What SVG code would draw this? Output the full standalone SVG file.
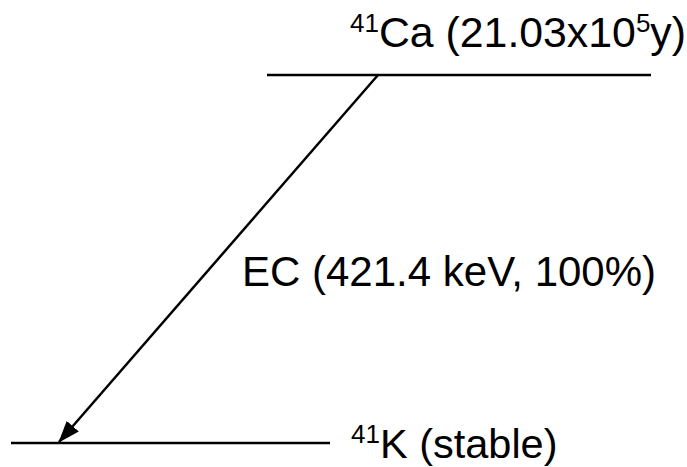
<svg xmlns="http://www.w3.org/2000/svg" width="687" height="467" viewBox="0 0 687 467">
<defs>
<style>
.lvl{stroke:#000;stroke-width:2.5;fill:none}
.lbl{font-family:"Liberation Sans",Arial,sans-serif;font-size:42px;fill:#000}
.top{font-size:42.8px}
.bot{font-size:41.5px}
.sup{font-size:26px}
</style>
<marker id="ah" markerWidth="22" markerHeight="16" refX="21" refY="8" orient="auto" markerUnits="userSpaceOnUse" viewBox="0 0 22 16">
<path d="M0,0 L22,8 L0,16 z" fill="#000"/>
</marker>
</defs>
<rect width="687" height="467" fill="#fff"/>
<g id="ca41">
<line class="lvl" x1="267" y1="75" x2="651" y2="75"/>
<text class="lbl top" x="350" y="47"><tspan class="sup" dy="-15">41</tspan><tspan dy="15">Ca (21.03x10</tspan><tspan class="sup" dy="-15">5</tspan><tspan dy="15">y)</tspan></text>
</g>
<g id="k41">
<line class="lvl" x1="11" y1="443" x2="330" y2="443"/>
<text class="lbl bot" x="351" y="458"><tspan class="sup" dy="-15">41</tspan><tspan dy="15">K (stable)</tspan></text>
</g>
<g id="connectors">
<line x1="378" y1="75" x2="59" y2="442" stroke="#000" stroke-width="2.5" marker-end="url(#ah)"/>
<text class="lbl" x="242" y="286">EC (421.4 keV, 100%)</text>
</g>
</svg>
